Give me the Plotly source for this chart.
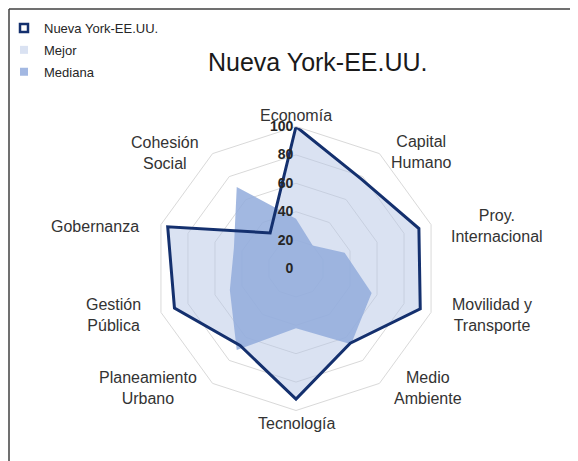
import plotly.graph_objects as go

# ---------------- data ----------------
categories = ["Economía", "Capital Humano", "Proy. Internacional", "Movilidad y Transporte",
              "Medio Ambiente", "Tecnología", "Planeamiento Urbano", "Gestión Pública",
              "Gobernanza", "Cohesión Social"]
label_text = ["Economía", "Capital<br>Humano", "Proy.<br>Internacional", "Movilidad y<br>Transporte",
              "Medio<br>Ambiente", "Tecnología", "Planeamiento<br>Urbano", "Gestión<br>Pública",
              "Gobernanza", "Cohesión<br>Social"]
nueva_york = [100, 78, 91, 92, 65, 92, 67, 90, 95, 31]
mejor = [100, 78, 91, 92, 65, 92, 67, 90, 95, 31]
mediana = [35, 20, 36, 56, 66, 42, 71, 49, 46, 71]
radial_ticks = [0, 20, 40, 60, 80, 100]

# ---------------- layout helpers ----------------
# the page body has an 8px margin, so the figure starts at (8, 8) on screen
OFF = 8
W, H = 570, 453
FONT = "Liberation Sans, Arial, sans-serif"


def px(x):
    return (x - OFF) / W


def py(y):
    return 1 - (y - OFF) / H


cx, cy, R = 296, 268.5, 142

# label centre positions (screen pixels)
label_pos = [(296, 115), (421, 152), (497, 226), (492, 315), (428, 388),
             (296, 423), (148, 388), (113, 315), (95, 226), (165, 153)]


def closed(v):
    return v + [v[0]]


theta_c = closed(categories)

fig = go.Figure()
fig.add_trace(go.Scatterpolar(
    r=closed(mejor), theta=theta_c, mode="lines", fill="toself",
    fillcolor="rgba(181,197,229,0.5)", line=dict(color="rgba(0,0,0,0)", width=0),
    showlegend=False, hoverinfo="skip"))
fig.add_trace(go.Scatterpolar(
    r=closed(mediana), theta=theta_c, mode="lines", fill="toself",
    fillcolor="rgba(146,171,220,0.85)", line=dict(color="rgba(0,0,0,0)", width=0),
    showlegend=False, hoverinfo="skip"))
fig.add_trace(go.Scatterpolar(
    r=closed(nueva_york), theta=theta_c, mode="lines",
    line=dict(color="#14306E", width=3), showlegend=False))

# legend entries
fig.add_trace(go.Scatterpolar(r=[None], theta=[categories[0]], mode="markers",
                              name="Nueva York-EE.UU.", legendgroup="a", showlegend=True,
                              marker=dict(symbol="square", size=8, color="white",
                                          line=dict(color="#14306E", width=2.5))))
fig.add_trace(go.Scatterpolar(r=[None], theta=[categories[0]], mode="markers",
                              name="Mejor", legendgroup="b", showlegend=True,
                              marker=dict(symbol="square", size=8, color="#DAE2F2",
                                          line=dict(width=0))))
fig.add_trace(go.Scatterpolar(r=[None], theta=[categories[0]], mode="markers",
                              name="Mediana", legendgroup="c", showlegend=True,
                              marker=dict(symbol="square", size=8, color="#A3B8E2",
                                          line=dict(width=0))))

annotations = [dict(text="Nueva York-EE.UU.", x=px(318), y=py(62), xref="paper", yref="paper",
                    showarrow=False, xanchor="center", yanchor="middle",
                    font=dict(family=FONT, size=25, color="#1A1A1A"))]
for t, (lx, ly) in zip(label_text, label_pos):
    annotations.append(dict(text=t, x=px(lx), y=py(ly), xref="paper", yref="paper",
                            showarrow=False, xanchor="center", yanchor="middle", align="center",
                            font=dict(family=FONT, size=16, color="#333333")))

fig.update_layout(
    width=W, height=H,
    margin=dict(l=0, r=0, t=0, b=0, autoexpand=False),
    paper_bgcolor="white",
    font=dict(family=FONT),
    polar=dict(
        domain=dict(x=[px(cx - R), px(cx + R)], y=[py(cy + R), py(cy - R)]),
        bgcolor="rgba(0,0,0,0)",
        gridshape="linear",
        radialaxis=dict(range=[0, 100], tickvals=radial_ticks, angle=90, tickangle=90,
                        showline=False, gridcolor="#D9D9D9", gridwidth=1, ticks="",
                        side="counterclockwise",
                        tickfont=dict(family=FONT, size=14, color="#262626", weight="bold")),
        angularaxis=dict(type="category", categoryarray=categories, rotation=90,
                         direction="clockwise", showticklabels=False, showgrid=False,
                         showline=True, linecolor="#D9D9D9", linewidth=1, ticks=""),
    ),
    showlegend=True,
    legend=dict(x=px(4), y=py(13), xanchor="left", yanchor="top",
                font=dict(family=FONT, size=13, color="#262626"),
                itemwidth=30, tracegroupgap=2, traceorder="grouped",
                bgcolor="rgba(0,0,0,0)"),
    annotations=annotations,
    shapes=[
        dict(type="line", xref="paper", yref="paper", x0=px(9), y0=py(9), x1=1.2, y1=py(9),
             line=dict(color="#404040", width=1.5)),
        dict(type="line", xref="paper", yref="paper", x0=px(9), y0=py(9), x1=px(9), y1=-0.2,
             line=dict(color="#404040", width=1.5)),
    ],
)

fig.write_html("out.html")
